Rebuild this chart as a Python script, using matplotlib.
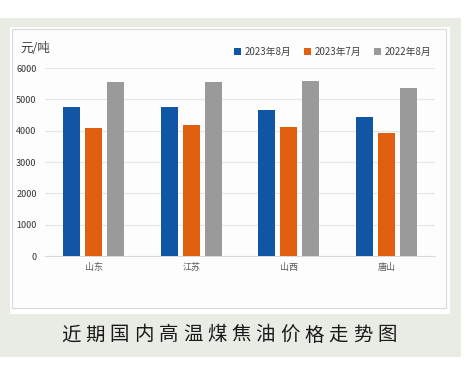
import matplotlib.pyplot as plt
import matplotlib.patches as patches
import numpy as np

plt.rcParams['font.family'] = ['Noto Sans CJK SC', 'DejaVu Sans']

regions = ['山东', '江苏', '山西', '唐山']
series_names = ['2023年8月', '2023年7月', '2022年8月']
aug_2023 = [4750, 4750, 4660, 4440]
jul_2023 = [4100, 4180, 4120, 3930]
aug_2022 = [5550, 5550, 5590, 5360]
yticks = [0, 1000, 2000, 3000, 4000, 5000, 6000]
colors = ['#1155a5', '#e0600f', '#9a9a9a']
title = '近期国内高温煤焦油价格走势图'

W, H = 470, 378
fig = plt.figure(figsize=(W / 100, H / 100), dpi=100)
fig.patch.set_facecolor('white')

# background layers, in pixel coords
bg = fig.add_axes([0, 0, 1, 1])
bg.set_xlim(0, W)
bg.set_ylim(H, 0)
bg.axis('off')
bg.add_patch(patches.Rectangle((0, 18), 461, 339, color='#e8ece5', lw=0))
bg.add_patch(patches.Rectangle((10, 27), 440, 287, color='white', lw=0))
bg.add_patch(patches.Rectangle((12, 29), 434, 279, facecolor='#fdfdfd',
                               edgecolor='#d9d9d9', lw=0.8))

# title with wide letter spacing
for i, ch in enumerate(title):
    bg.text(71 + i * 24.3, 335, ch, ha='center', va='center',
            fontsize=14, fontweight='medium', color='#1a1a1a')

bg.text(20, 48, '元/吨', ha='left', va='center', fontsize=9, color='#404040')

ax = fig.add_axes([45 / W, (H - 256) / H, (435 - 45) / W, (256 - 68) / H])
ax.set_facecolor('none')
x = np.arange(len(regions))
width = 0.175
off = 0.226
for k, vals in enumerate([aug_2023, jul_2023, aug_2022]):
    ax.bar(x + (k - 1) * off, vals, width, color=colors[k], label=series_names[k],
           zorder=3)

ax.set_xlim(-0.5, 3.5)
ax.set_ylim(0, 6000)
ax.set_yticks(yticks)
ax.set_yticklabels([str(v) for v in yticks], fontsize=6.5, color='#333333')
ax.set_xticks(x)
ax.set_xticklabels(regions, fontsize=6.5, color='#595959')
ax.tick_params(length=0, pad=6)
ax.tick_params(axis='x', pad=5)
ax.grid(axis='y', color='#e6e6e6', lw=0.8, zorder=0)
for s in ['top', 'right', 'left']:
    ax.spines[s].set_visible(False)
ax.spines['bottom'].set_color('#d9d9d9')

ax.legend(loc='lower right', bbox_to_anchor=(1.0, 1.04), ncol=3, frameon=False,
          fontsize=7, handlelength=0.7, handleheight=0.7, handletextpad=0.4,
          columnspacing=1.3, borderaxespad=0, labelcolor='#404040')

fig.savefig('out.png', dpi=100)
